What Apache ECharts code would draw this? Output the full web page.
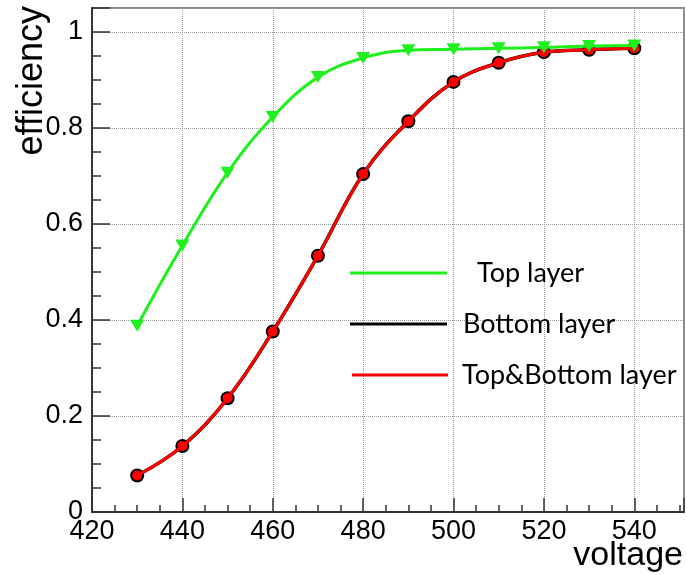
<!DOCTYPE html>
<html>
<head>
<meta charset="utf-8">
<script src="https://cdn.jsdelivr.net/npm/echarts@6/dist/echarts.min.js"></script>
<style>
  html, body { margin: 0; padding: 0; background: #fff; }
  #chart { width: 687px; height: 575px; }
</style>
</head>
<body>
<div id="chart"></div>
<script>
// voltage steps and measured efficiency per layer
const voltage = [430, 440, 450, 460, 470, 480, 490, 500, 510, 520, 530, 540]
const topLayer = [0.388, 0.555, 0.707, 0.823, 0.906, 0.946, 0.962, 0.964, 0.966, 0.968, 0.971, 0.972]
const bottomLayer = [0.076, 0.1375, 0.237, 0.376, 0.534, 0.704, 0.814, 0.896, 0.936, 0.958, 0.963, 0.966]
const topBottomLayer = [0.076, 0.1375, 0.237, 0.376, 0.534, 0.704, 0.814, 0.896, 0.936, 0.958, 0.963, 0.966]
const seriesNames = ['Top layer', 'Bottom layer', 'Top&Bottom layer']

const pairs = ys => voltage.map((v, i) => [v, ys[i]])

const chart = echarts.init(document.getElementById('chart'))

const tickFont = { fontFamily: 'Liberation Sans', fontSize: 27, color: '#000' }
const legendText = pad => ({
  fontFamily: 'Lato', fontSize: 27, color: '#000', lineHeight: 30, padding: [0, 0, 0, pad]
})

chart.setOption({
  animation: false,
  grid: {
    left: 92, right: 2, top: 8, bottom: 63,
    show: true, borderColor: '#8a8a8a', borderWidth: 2
  },
  xAxis: {
    type: 'value', min: 420, max: 551, interval: 20,
    axisLine: { lineStyle: { color: '#333', width: 2 } },
    axisTick: { inside: true, length: 14, lineStyle: { color: '#333', width: 1.5 } },
    minorTick: { show: true, splitNumber: 4, length: 7, lineStyle: { color: '#333', width: 1.5 } },
    axisLabel: {
      ...tickFont, margin: 6,
      formatter: v => (v % 20 === 0 ? String(v) : '')
    },
    splitLine: { show: true, lineStyle: { color: '#999', type: 'dotted', width: 1 } }
  },
  yAxis: {
    type: 'value', min: 0, max: 1.05, interval: 0.2,
    axisLine: { lineStyle: { color: '#333', width: 2 } },
    axisTick: { inside: true, length: 18, lineStyle: { color: '#333', width: 1.5 } },
    minorTick: { show: true, splitNumber: 4, length: 9, lineStyle: { color: '#333', width: 1.5 } },
    axisLabel: {
      ...tickFont, margin: 9,
      formatter: v => {
        const r = Math.round(v * 10) / 10
        if (Math.abs(v - r) > 1e-6 || Math.round(r * 10) % 2 !== 0) return ''
        return String(r)
      }
    },
    splitLine: { show: true, lineStyle: { color: '#999', type: 'dotted', width: 1 } }
  },
  legend: [
    { data: [seriesNames[0]], left: 350, top: 258, padding: 0, icon: 'rect', itemWidth: 97, itemHeight: 3, textStyle: legendText(25) },
    { data: [seriesNames[1]], left: 350, top: 309, padding: 0, icon: 'rect', itemWidth: 97, itemHeight: 3, textStyle: legendText(11) },
    { data: [seriesNames[2]], left: 352, top: 360, padding: 0, icon: 'rect', itemWidth: 96, itemHeight: 3, textStyle: legendText(9) }
  ],
  graphic: [
    {
      type: 'text', x: 32, y: 6, rotation: Math.PI / 2,
      style: { text: 'efficiency', font: '36px "Liberation Sans"', fill: '#000', align: 'right', verticalAlign: 'middle' }
    },
    {
      type: 'text', x: 683, y: 556,
      style: { text: 'voltage', font: '34px "Liberation Sans"', fill: '#000', align: 'right', verticalAlign: 'middle' }
    }
  ],
  series: [
    {
      name: seriesNames[1], type: 'line', data: pairs(bottomLayer), smooth: 0.4,
      symbol: 'circle', symbolSize: 14, z: 2,
      itemStyle: { color: '#000' },
      lineStyle: { color: '#000', width: 3.5 }
    },
    {
      name: seriesNames[2], type: 'line', data: pairs(topBottomLayer), smooth: 0.4,
      symbol: 'circle', symbolSize: 10, z: 3,
      itemStyle: { color: '#ff0000' },
      lineStyle: { color: '#ff0000', width: 3 }
    },
    {
      name: seriesNames[0], type: 'line', data: pairs(topLayer), smooth: 0.4,
      symbol: 'triangle', symbolRotate: 180, symbolSize: [14, 12], z: 4,
      itemStyle: { color: '#1ef01e' },
      lineStyle: { color: '#1ef01e', width: 3 }
    }
  ]
})
</script>
</body>
</html>
